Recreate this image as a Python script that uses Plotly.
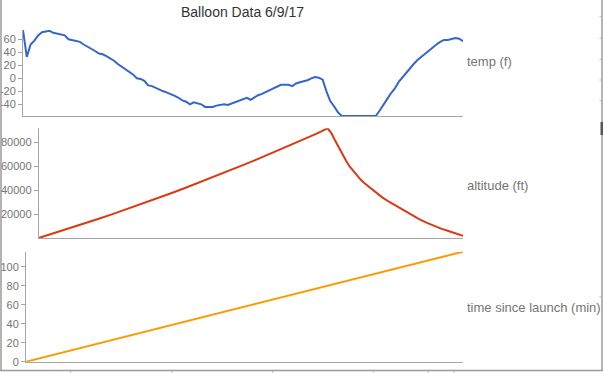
import plotly.graph_objects as go

# ---------------- data ----------------
temp_minutes = list(range(0, 117))
temp_f = [74, 33, 52, 58, 66, 71, 72, 73, 70, 69,
          68, 66, 60, 59, 58, 56, 52, 49, 46, 42,
          38, 37, 34, 31, 27, 22, 18, 14, 10, 6,
          0, -1, -4, -11, -12, -15, -17, -20, -22, -24,
          -27, -30, -34, -36, -40, -37, -39, -40, -44, -44,
          -44, -42, -41, -40, -41, -39, -36, -35, -32, -30,
          -33, -29, -26, -24, -21, -19, -15, -13, -10, -10,
          -10, -12, -8, -6, -5, -3, 0, 2, 1, -2,
          -20, -35, -43, -52, -58, -58, -58, -58, -58, -58,
          -58, -58, -58, -58, -50, -40, -32, -23, -16, -6,
          1, 9, 16, 22, 28, 33, 38, 43, 48, 52,
          56, 59, 59, 61, 62, 61, 57]

alt_minutes = [0, 4, 8, 12, 16, 20, 24, 28, 32, 36, 40, 44, 48, 52, 56, 60,
               64, 68, 72, 76, 79, 80, 81, 82, 83, 84, 85, 86, 87, 88, 89, 90,
               92, 94, 96, 98, 100, 102, 104, 106, 108, 110, 112, 114, 116]
altitude_ft = [0, 3780, 7650, 11620, 15680, 19830, 24070, 28400, 32830, 37340,
               41950, 46650, 51450, 56330, 61300, 66370, 71530, 76780, 82120,
               87560, 92000, 88000, 82000, 76000, 70200, 65000, 60000, 56000,
               52300, 49000, 46200, 43600, 38600, 33900, 30000, 26400, 22800,
               19200, 15800, 12900, 10100, 7900, 5900, 3900, 1800]

time_minutes = [0, 4, 8, 12, 16, 20, 24, 28, 32, 36, 40, 44, 48, 52, 56, 60,
                64, 68, 72, 76, 80, 84, 88, 92, 96, 100, 104, 108, 112, 116]
time_since_launch = [0, 4, 8, 12, 16, 20, 24, 28, 32, 36, 40, 44, 48, 52, 56, 60,
                     64, 68, 72, 76, 80, 84, 88, 92, 96, 100, 104, 108, 112, 116]

title_text = "Balloon Data 6/9/17"
series_labels = ["temp (f)", "altitude (ft)", "time since launch (min)"]
temp_ticks = [-40, -20, 0, 20, 40, 60]
alt_ticks = [20000, 40000, 60000, 80000]
time_ticks = [0, 20, 40, 60, 80, 100]

# ---------------- layout helpers ----------------
W, H = 603, 373
def px(x):
    return x / W
def py(y):
    return 1 - y / H

FONT = "Arial, Liberation Sans, sans-serif"
AX = "#a6a6a6"
TXT = "#757575"

fig = go.Figure()
fig.add_trace(go.Scatter(x=temp_minutes, y=temp_f, xaxis="x", yaxis="y", mode="lines",
                         line=dict(color="#3366cc", width=2), hoverinfo="skip"))
fig.add_trace(go.Scatter(x=alt_minutes, y=altitude_ft, xaxis="x2", yaxis="y2", mode="lines",
                         line=dict(color="#dc3912", width=2), hoverinfo="skip"))
fig.add_trace(go.Scatter(x=time_minutes, y=time_since_launch, xaxis="x3", yaxis="y3", mode="lines",
                         line=dict(color="#ff9900", width=2), hoverinfo="skip"))

def xax(left, anchor):
    return dict(domain=[px(left), px(463)], range=[0, 116], anchor=anchor,
                showline=True, linecolor=AX, linewidth=1, showticklabels=False,
                ticks="", showgrid=False, zeroline=False, fixedrange=True,
                automargin=False)

def yax(top, bottom, rng, ticks, anchor):
    return dict(domain=[py(bottom), py(top)], range=rng, anchor=anchor,
                showline=True, linecolor=AX, linewidth=1, ticks="outside",
                ticklen=4, tickcolor=AX, tickvals=ticks,
                ticktext=[str(t) for t in ticks],
                tickfont=dict(family=FONT, size=11, color=TXT),
                showgrid=False, zeroline=False, fixedrange=True,
                automargin=False)

annotations = [dict(text=title_text, x=px(242), y=py(12), xref="paper", yref="paper",
                    xanchor="center", yanchor="middle", showarrow=False,
                    font=dict(family=FONT, size=14, color="#333333"))]
for lbl, yy in zip(series_labels, [61.5, 185, 307.5]):
    annotations.append(dict(text=lbl, x=px(465), y=py(yy), xref="paper", yref="paper",
                            xanchor="left", yanchor="middle", showarrow=False,
                            font=dict(family=FONT, size=13, color=TXT)))

shapes = []
frame = "#9a9a9a"
# frame borders of the captured image
shapes.append(dict(type="line", xref="paper", yref="paper", x0=px(1), x1=px(1), y0=py(0), y1=py(371),
                   line=dict(color=frame, width=1.5)))
shapes.append(dict(type="line", xref="paper", yref="paper", x0=px(0), x1=px(603), y0=py(370.5), y1=py(370.5),
                   line=dict(color=frame, width=1.5)))
shapes.append(dict(type="line", xref="paper", yref="paper", x0=px(602), x1=px(602), y0=py(0), y1=py(371),
                   line=dict(color=frame, width=1.5)))
# stray tick fragments at the bottom edge
for bx in [70.7, 171.7, 272.7, 373.3, 428.3, 454]:
    shapes.append(dict(type="line", xref="paper", yref="paper", x0=px(bx), x1=px(bx),
                       y0=py(371), y1=py(373), line=dict(color="#bbbbbb", width=1)))
# stray tick fragments on the right edge
for by in [16.7, 38.3, 59.3, 80, 100.7, 297]:
    shapes.append(dict(type="line", xref="paper", yref="paper", x0=px(599.5), x1=px(601.5),
                       y0=py(by), y1=py(by), line=dict(color="#bbbbbb", width=1)))
shapes.append(dict(type="rect", xref="paper", yref="paper", x0=px(600.5), x1=px(603),
                   y0=py(135), y1=py(122), line=dict(width=0), fillcolor="#555555"))

fig.update_layout(
    width=W, height=H, autosize=False,
    margin=dict(l=0, r=0, t=0, b=0, pad=0, autoexpand=False),
    paper_bgcolor="white", plot_bgcolor="white",
    showlegend=False,
    font=dict(family=FONT, color=TXT),
    xaxis=xax(23, "y"),
    yaxis=yax(30, 116, [-58, 74.3], temp_ticks, "x"),
    xaxis2=xax(38.7, "y2"),
    yaxis2=yax(128.3, 238, [0, 92000], alt_ticks, "x2"),
    xaxis3=xax(26, "y3"),
    yaxis3=yax(251.7, 361.7, [0, 116], time_ticks, "x3"),
    annotations=annotations,
    shapes=shapes,
)

fig.write_html("out.html", config={"displayModeBar": False},
               post_script="document.body.style.margin='0';document.body.style.overflow='hidden';")
